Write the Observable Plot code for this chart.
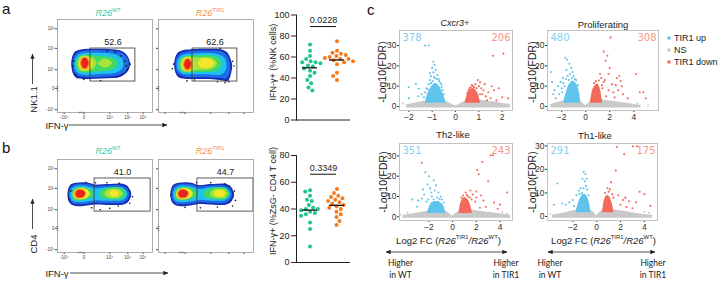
<!DOCTYPE html>
<html>
<head>
<meta charset="utf-8">
<script src="https://cdn.jsdelivr.net/npm/d3@7"></script>
<script src="https://cdn.jsdelivr.net/npm/@observablehq/plot@0.6"></script>
<style>
  html, body { margin: 0; padding: 0; background: #fff; }
  #fig { position: relative; width: 720px; height: 281px; overflow: hidden; background: #fff;
         font-family: "Liberation Sans", Arial, sans-serif; color: #222; }
  #fig .p { position: absolute; }
  #fig svg { display: block; overflow: visible; }
  #ov { position: absolute; left: 0; top: 0; pointer-events: none; }
</style>
</head>
<body>
<div id="fig"></div>
<script>
// ====================== DATA ======================
const groups = ["WT", "TIR1"];
// panel a : IFN-γ+ (%NK cells)
const aWT   = [72, 66, 61, 58, 56, 55, 55, 54, 52, 51, 49, 47, 45, 42, 38, 35, 31, 28];
const aTIR1 = [75, 66, 64, 63, 62, 61, 60, 59, 58, 58, 57, 56, 55, 53, 45, 42, 38];
// panel b : IFN-γ+ (%ZsG- CD4 T cell)
const bWT   = [54, 53, 50, 47, 46, 43, 41, 40, 40, 39, 38, 37, 36, 35, 30, 25, 12];
const bTIR1 = [55, 52, 50, 49, 48, 47, 46, 45, 44, 43, 42, 41, 40, 38, 36, 34, 31, 28];
const pValues = ["0.0228", "0.3349"];
const sigBarAt = [89, 66];
const sigTextAt = [95.5, 70.5];
const dotTicksA = [0, 20, 40, 60, 80, 100];
const dotTicksB = [0, 20, 40, 60, 80];
const dotMax = [100, 80];

// flow plots (display units 0-100 on both axes)
const flowXTicks = [7, 28, 55, 74, 90];
const flowXLabels = ["-10⁴", "0", "10⁴", "10⁵", "10⁶"];
const flowYTicks = [3, 26, 46, 69, 90];
const flowYLabels = ["-10⁴", "0", "10⁴", "10⁵", "10⁶"];
const gateValues = ["52.6", "62.6", "41.0", "44.7"];
const gates = [[34.7, 82, 33.3, 68.8], [35.8, 83, 33.3, 68.8], [39, 98, 44, 79.6], [41, 100, 44, 79.6]];
const densityLevels = [0, 1, 2, 3, 4, 5, 6, 7];

const blobAWT = [
  {p:"0", lvl:0, x:[15,16.5,19,24,32,45,58,67,72,75,77], lo:[50,42,38,36,35.5,36,36.5,38,41,45,50], hi:[54,61,65,67,68,68,67.5,66,63,59,53]},
  {p:"1", lvl:1, x:[16.5,18,21,26,34,46,58,66,71,74,75.5], lo:[50,43,39.5,38,37.5,38,38.5,40,43,46,50], hi:[53,60,63.5,65.5,66.5,66.5,66,64.5,61.5,58,53]},
  {p:"2", lvl:2, x:[18,20,23,28,36,47,57,64,68,70], lo:[50,44,41,40,40,41,41.5,43,46,50], hi:[54,59,62,63.5,64,63.5,63,61,58,54]},
  {p:"3", lvl:3, x:[20,22,25,30,38,48,56,61,64], lo:[50,45,43,42.5,43,44,45,47,51], hi:[54,58,60.5,61.5,61,60,59,57,54]},
  {p:"4", lvl:4, x:[21.5,23.5,27,31,36,39,41.5], lo:[51,45.5,44,44,45,47.5,52], hi:[53,58.5,60.5,60.5,59.5,57.5,54]},
  {p:"4b", lvl:4, x:[43,47,51,55,58], lo:[52,49,48,49.5,52.5], hi:[53,56.5,57.5,56,53]},
  {p:"5", lvl:5, x:[23,25,28,32,35.5,37.5], lo:[51.5,46.5,45,45.5,47.5,52], hi:[53,57.5,59.5,59,57,54]},
  {p:"6", lvl:6, x:[24,26,29,32,34.5], lo:[52,47,45.5,46.5,51], hi:[53,58,59,58,54]},
  {p:"7", lvl:7, x:[25.5,27,29.5,31.5,33], lo:[52,48,47,48.5,52], hi:[53,57.5,58.5,57,54]}
];
const blobATIR1 = [
  {p:"0", lvl:0, x:[17,18.5,21,26,35,48,60,68,73,76,78], lo:[49,42,38,36,35.5,35.5,35,34,33,38,47], hi:[53,60,64,66.5,67.5,68,68,67,64,58,52]},
  {p:"1", lvl:1, x:[18.5,20,23,28,36,48,60,67,71.5,74.5,76], lo:[49,43,40,38,37.5,37.5,37,36.5,36,40,47], hi:[53,59,62.5,64.5,65.5,66,66,65,62,57,52]},
  {p:"2", lvl:2, x:[20,22,25,30,38,49,60,66,70,72], lo:[49,44,41.5,40.5,40.5,40.5,40,40,43,48], hi:[53,58,61,62.5,63,63.5,63,61,58,53]},
  {p:"3", lvl:3, x:[22,24,27,32,40,50,59,64,67], lo:[49,45,43,42.5,43,43,43.5,46,50], hi:[53,57,59.5,60.5,61,61,60.5,58,54]},
  {p:"4", lvl:4, x:[23.5,25.5,29,34,39,45,52,58,62], lo:[50,45,43.5,43.5,45,45.5,45.5,47,51], hi:[52,57.5,59.5,59.5,58.5,59,59,57.5,53]},
  {p:"5", lvl:5, x:[25,27,30,34,37.5], lo:[50,45.5,44.5,45,49.5], hi:[52,57,58.5,58,53]},
  {p:"5b", lvl:5, x:[42,45,50,55,59], lo:[51.5,48,47,48,51.5], hi:[53,57,58,57,53.5]},
  {p:"6", lvl:6, x:[26,28,31,34,36.5], lo:[50,46,44.5,45.5,50], hi:[52,56.5,58,57,53]},
  {p:"7", lvl:7, x:[27.5,29,31.5,33.5,35], lo:[50,47,46,47.5,51], hi:[52,56,57,55.5,52.5]}
];
const blobBWT = [
  {p:"0", lvl:0, x:[11,12.5,15,20,28,35,40,45,52,62,70,75,78], lo:[60,54,51,49.5,49.5,50.5,51,51,50.5,50.5,51,54,60], hi:[64,70,73,74.5,75,74,72.5,72.5,73,73.5,73,70,64]},
  {p:"1", lvl:1, x:[12.5,14,16.5,21,28,35,40,45,52,62,69,73.5,76], lo:[60,55,52.5,51.5,51.5,52.5,53,53,52.5,52.5,53,56,60], hi:[64,69,71.5,73,73.5,72.5,71,71,71.5,72,71,68.5,64]},
  {p:"2", lvl:2, x:[14,16,19,24,30,36,40,45,52,62,68,72,74], lo:[60,55.5,54,53.5,54,55,55.5,55.5,55,55,55.5,58,61], hi:[64,68.5,70.5,71.5,71,69.5,68.5,68.5,69.5,70,69.5,67,63]},
  {p:"3", lvl:3, x:[15.5,18,22,27,32,36,39], lo:[60.5,56.5,55.5,56,57,58.5,61], hi:[64,67.5,69.5,70,69,67,64]},
  {p:"3b", lvl:3, x:[44,48,54,60,66,70,72.5], lo:[61,58,57,56.5,57,58.5,61.5], hi:[64.5,67.5,69,69.5,69,67.5,64]},
  {p:"4", lvl:4, x:[50,53,57,62,66,69], lo:[61.5,59,58,58,59,62], hi:[64,67,68,68,67,64]},
  {p:"5", lvl:5, x:[17,19,23,28,32,34.5], lo:[61,57.5,56.5,57,58.5,61.5], hi:[63.5,67,68.5,68.5,67,64]},
  {p:"5b", lvl:5, x:[55,57.5,60,63,65], lo:[62,60,59.5,60,62.5], hi:[64,66.5,67,66,64.5]},
  {p:"6", lvl:6, x:[18,20,24,28,30.5], lo:[61.5,58,57.5,58.5,62], hi:[63.5,67,68,67,64]},
  {p:"7", lvl:7, x:[19.5,21.5,24.5,27.5,29.5], lo:[61.5,59,58.5,59.5,62], hi:[63.5,66.5,67,66,64]}
];
const blobBTIR1 = [
  {p:"0", lvl:0, x:[13,14.5,17,22,30,37,42,47,54,64,72,77,80], lo:[60,54,51,49.5,49.5,50.5,51.5,51.5,51,50.5,51,54,60], hi:[64,70,73,74.5,75,74,72,72,73,73.5,73,70,64]},
  {p:"1", lvl:1, x:[14.5,16,18.5,23,30,37,42,47,54,64,71,75.5,78], lo:[60,55,52.5,51.5,51.5,52.5,53.5,53.5,53,52.5,53,56,60], hi:[64,69,71.5,73,73.5,72.5,70.5,70.5,71.5,72,71,68.5,64]},
  {p:"2", lvl:2, x:[16,18,21,26,32,38,42,47,54,64,70,74,76], lo:[60,55.5,54,53.5,54,55,56,56,55.5,55,55.5,58,61], hi:[64,68.5,70.5,71.5,71,69.5,68,68,69.5,70,69.5,67,63]},
  {p:"3", lvl:3, x:[17.5,20,24,29,34,38,41], lo:[60.5,56.5,55.5,56,57,58.5,61], hi:[64,67.5,69.5,70,69,67,64]},
  {p:"3b", lvl:3, x:[48,52,58,64,70,73,75], lo:[61,58,57,56.5,57,58.5,61.5], hi:[64.5,67.5,69,69.5,69,67.5,64]},
  {p:"4", lvl:4, x:[55,58,62,67,71,73], lo:[61.5,59,58,58,59,62], hi:[64,67,68,68,67,64]},
  {p:"5", lvl:5, x:[19,21,25,30,34,36.5], lo:[61,57.5,56.5,57,58.5,61.5], hi:[63.5,67,68.5,68.5,67,64]},
  {p:"5b", lvl:5, x:[59,61.5,65,68.5,70.5], lo:[62,60,59.5,60,62.5], hi:[64,66.5,67,66,64.5]},
  {p:"6", lvl:6, x:[20,22,26,30,32.5], lo:[61.5,58,57.5,58.5,62], hi:[63.5,67,68,67,64]},
  {p:"7", lvl:7, x:[21.5,23.5,26.5,29.5,31.5], lo:[61.5,59,58.5,59.5,62], hi:[63.5,66.5,67,66,64]}
];
const eventsAWT = [[17.2,55.2],[16.5,49.9],[19,40.9],[20.7,37.3],[27.7,35.5],[45.3,34.4],[61,64.9],[66.3,60.6],[70.5,55.2],[72.6,49.9],[73.3,45.5],[68,40.9],[62.8,38.4],[52.3,66],[59.3,66.7],[76.5,52],[74.5,47],[0,24],[0,26],[0,28],[23,0],[25,0],[27,0]];
const eventsATIR1 = [[14.5,47],[16,52],[78,55],[79.5,50],[74,33],[70,32],[62,33],[65,69],[38,35],[30,34],[0,24],[0,26],[0,28],[23,0],[25,0],[27,0]];
const eventsBWT = [[12,57],[14,66],[30,75.5],[40,75],[52,75],[65,74.5],[76,66],[79,60],[76,53],[64,50],[55,47.5],[45,46],[36,48],[0,24],[0,26],[0,28],[22,0],[24,0],[26,0]];
const eventsBTIR1 = [[13,62],[40,75],[55,75],[70,74],[80,66],[81,56],[78,50],[62,49],[44,48],[28,48.5],[0,24],[0,26],[0,28],[22,0],[24,0],[26,0]];

// volcano plots: bands [x, lo, hi]; dots [log2FC, -log10 FDR]
const volcCxcr3 = {
  ns: [[-2.1,-0.7,0.8],[-1.6,-0.7,2],[-1.2,-0.7,2.8],[-0.8,-0.7,3.3],[-0.5,-0.7,3],[-0.3,-0.7,2],[-0.15,-0.7,1],[0,-0.7,0.4],[0.15,-0.7,1],[0.3,-0.7,2],[0.5,-0.7,3],[0.8,-0.7,3.3],[1.2,-0.7,3],[1.6,-0.7,2.3],[2.0,-0.7,1.5],[2.35,-0.7,0.8]],
  up: [[-1.28,1.6,2.5],[-1.2,1.6,6],[-1.1,1.6,8.5],[-0.98,1.6,10.5],[-0.88,1.6,11.5],[-0.77,1.6,11],[-0.66,1.6,9.5],[-0.56,1.6,7],[-0.48,1.6,4.5],[-0.42,1.6,2.5]],
  down: [[0.42,1.6,2.5],[0.48,1.6,5],[0.56,1.6,7.5],[0.66,1.6,8.5],[0.76,1.6,9],[0.88,1.6,8],[0.98,1.6,6],[1.06,1.6,2.5]],
  nsDots: [[-2.25,1.5],[-1.9,0.5],[2.2,1.2],[2.3,0.3]],
  upDots: [[-1.3,30],[-1.15,30],[-0.95,22],[-0.9,20.5],[-1.0,19],[-0.85,18],[-0.95,16.8],[-0.78,15.5],[-1.05,15],[-0.88,14],[-0.72,13.5],[-1.1,13],[-0.65,11.5],[-1.15,11],[-1.25,9],[-1.3,7],[-1.45,6],[-1.6,5],[-2.0,9.5],[-1.57,8.7],[-1.7,11],[-2.0,4],[-1.1,16.5],[-0.98,12.5],[-1.35,4.5],[-0.6,9.5],[-0.55,8],[-0.5,6],[-0.7,12.5],[-0.8,13.5],[-1.2,8.5],[-1.05,11.5],[-0.92,14.5],[-0.6,10.8]],
  downDots: [[1.6,25],[2.05,26],[0.95,13],[0.85,11],[1.0,10],[0.8,9.5],[1.1,9],[1.2,8],[1.15,6],[1.3,5],[1.4,7],[1.5,4],[1.85,9],[1.75,3],[2.0,4.5],[2.25,4],[1.65,8],[0.7,10.5],[1.25,11],[1.35,3],[1.05,12],[1.55,10],[0.55,8],[0.65,9.5],[0.75,10],[0.9,9],[1.05,6],[0.5,6.5],[0.6,9]]
};
const volcProlif = {
  ns: [[-2.9,-0.7,1],[-2.3,-0.7,2],[-1.7,-0.7,2.8],[-1.1,-0.7,3.3],[-0.6,-0.7,3.2],[-0.3,-0.7,2],[-0.12,-0.7,1],[0,-0.7,0.4],[0.12,-0.7,1],[0.3,-0.7,2],[0.6,-0.7,3.2],[1.1,-0.7,3.3],[1.7,-0.7,3],[2.3,-0.7,2.5],[3.0,-0.7,2],[3.8,-0.7,1.2],[4.6,-0.7,0.6]],
  up: [[-1.8,1.6,3],[-1.65,1.6,6],[-1.5,1.6,9],[-1.35,1.6,11],[-1.2,1.6,12],[-1.05,1.6,12.5],[-0.9,1.6,12],[-0.75,1.6,11],[-0.6,1.6,9],[-0.5,1.6,6],[-0.42,1.6,2.5]],
  down: [[0.4,1.6,2.5],[0.5,1.6,6],[0.6,1.6,8.5],[0.75,1.6,10],[0.9,1.6,11],[1.05,1.6,11],[1.2,1.6,9],[1.3,1.6,6],[1.4,1.6,2.5]],
  nsDots: [[4.3,1.5],[-2.6,1],[3.6,0.6],[5.2,0.5]],
  upDots: [[-1.7,24],[-1.55,23],[-1.35,21],[-1.2,19],[-1.1,17],[-1.3,16],[-1.5,15],[-1.9,14],[-2.1,12],[-2.3,10],[-2.6,8],[-2.9,17],[-2.8,12],[-2.0,9],[-1.0,15],[-0.9,13.5],[-1.4,13],[-2.2,6],[-2.5,4],[-1.75,10],[-1.6,18],[-1.15,14],[-2.7,6],[-1.85,11.5],[-1.65,13.5],[-1.95,7],[-0.8,13],[-0.65,10.5]],
  downDots: [[2.07,34],[1.5,27],[1.8,25],[1.65,22.5],[2.0,19],[1.9,16],[1.2,16],[2.8,15],[2.6,14],[1.5,12],[2.2,11],[3.0,10],[2.7,8],[3.1,6],[2.3,7],[1.7,5],[3.5,4],[4.2,16],[4.5,7],[4.8,7],[5.0,4],[1.4,9],[1.6,13],[2.4,4.5],[2.9,12.5],[1.3,14],[1.9,8],[2.5,10.5],[0.85,12.5],[1.1,12.8],[0.7,11.5],[1.35,10.5]]
};
const volcTh2 = {
  ns: [[-4.2,-0.7,0.6],[-3.4,-0.7,1.4],[-2.6,-0.7,2.2],[-1.9,-0.7,3],[-1.2,-0.7,3.2],[-0.7,-0.7,3],[-0.35,-0.7,2],[-0.15,-0.7,1],[0,-0.7,0.4],[0.15,-0.7,1],[0.35,-0.7,2],[0.7,-0.7,3],[1.3,-0.7,3.2],[2.0,-0.7,3],[2.8,-0.7,2.4],[3.6,-0.7,1.8],[4.4,-0.7,1.2],[4.9,-0.7,0.6]],
  up: [[-2.1,1.6,2.5],[-1.95,1.6,5],[-1.75,1.6,7],[-1.45,1.6,7.5],[-1.15,1.6,7.5],[-0.9,1.6,6.5],[-0.72,1.6,5],[-0.6,1.6,2.5]],
  down: [[0.55,1.6,2.5],[0.65,1.6,6],[0.8,1.6,8.5],[1.0,1.6,9.5],[1.2,1.6,9],[1.4,1.6,7.5],[1.55,1.6,5],[1.65,1.6,2.5]],
  nsDots: [[-4.4,1.2],[-3.8,2],[4.2,2.2],[4.6,1.5],[-3.2,0.5]],
  upDots: [[-2.3,22],[-2.0,20],[-1.6,18],[-2.1,16],[-1.9,14],[-1.5,13],[-1.2,12],[-2.4,11],[-1.0,10],[-2.6,9],[-1.3,9.5],[-0.9,8.5],[-2.9,8],[-3.0,5],[-2.2,7.5],[-1.75,10],[-3.4,8.5],[-1.8,12],[-2.5,13.5],[-1.4,15.5],[-1.6,8.5],[-1.1,8.8],[-2.05,8.5],[-0.75,7]],
  downDots: [[-2.6,26.6],[3.2,30.3],[3.4,30.3],[2.5,27],[2.08,23],[2.2,21],[3.0,17.5],[4.6,12],[1.5,13],[2.0,12.5],[1.1,12],[1.7,11],[2.4,10.5],[1.3,10],[2.6,8],[3.5,7],[1.9,7.5],[2.8,5],[3.8,4],[2.3,4.5],[4.0,6],[2.0,9.5],[0.9,10.5],[1.6,8.5],[0.75,9.5],[1.2,10.8],[1.45,9.5]]
};
const volcTh1 = {
  ns: [[-3.7,-0.7,0.6],[-3.0,-0.7,1.2],[-2.3,-0.7,2],[-1.6,-0.7,2.8],[-1.0,-0.7,3],[-0.6,-0.7,2.8],[-0.3,-0.7,2],[-0.12,-0.7,1],[0,-0.7,0.4],[0.12,-0.7,1],[0.3,-0.7,2],[0.6,-0.7,2.8],[1.0,-0.7,3],[1.6,-0.7,2.8],[2.3,-0.7,2.2],[3.0,-0.7,1.6],[3.8,-0.7,1],[4.7,-0.7,0.5]],
  up: [[-1.7,1.6,2.5],[-1.55,1.6,5.5],[-1.35,1.6,8],[-1.15,1.6,9.5],[-0.95,1.6,9.5],[-0.75,1.6,8],[-0.6,1.6,5.5],[-0.5,1.6,2.5]],
  down: [[0.5,1.6,2.5],[0.6,1.6,6],[0.75,1.6,8.5],[0.95,1.6,9],[1.15,1.6,8],[1.3,1.6,5.5],[1.42,1.6,2.5]],
  nsDots: [[-3.9,1],[4.4,1.5],[-2.8,0.5],[4.0,2]],
  upDots: [[-1.1,19],[-0.95,18],[-1.2,16],[-1.0,15],[-0.9,13],[-1.35,12],[-1.5,11],[-0.8,11.5],[-1.7,9],[-2.0,7],[-2.3,6],[-2.6,5],[-2.9,5.5],[-3.3,14],[-3.6,5],[-1.9,4.5],[-1.1,12],[-1.25,10],[-0.85,16],[-0.7,9],[-1.45,9.5]],
  downDots: [[1.7,29.5],[3.04,29.8],[3.37,29.8],[2.3,26.5],[1.6,19.5],[1.2,14.5],[0.9,12],[1.1,11.5],[1.4,8],[2.2,7],[2.7,6.5],[3.3,6],[3.6,10.5],[4.0,9.5],[4.5,4.5],[2.0,5],[2.5,4],[3.0,3.5],[1.8,9],[2.4,8],[1.0,10.5],[0.7,10],[1.3,9.5]]
};
const volcTitles = ["Cxcr3+", "Proliferating", "Th2-like", "Th1-like"];
const volcCounts = [["378", "206"], ["480", "308"], ["351", "243"], ["291", "175"]];
const volcXDomains = [[-2.40, 2.44], [-3.18, 6.06], [-4.48, 5.05], [-4.13, 5.1]];
const volcYDomains = [[-1.97, 37.4], [-1.97, 37.4], [-1.8, 36.1], [-1.7, 31.0]];
const volcXTicks = [[-2, -1, 0, 1, 2], [-2, 0, 2, 4], [-2, 0, 2, 4], [-2, 0, 2, 4]];
const volcYTicks = [0, 10, 20, 30];
const legendLabels = ["TIR1 up", "NS", "TIR1 down"];

// ====================== STYLE ======================
const C = {
  green: "#1ec48c", orange: "#f47b20", wtTitle: "#35c6a1", tirTitle: "#f39237",
  up: "#5fc3eb", ns: "#c9c9c9", down: "#f36a5c", upText: "#86cdee", downText: "#f7968b"
};
const levelColors = ["#1830b8", "#1e6ce6", "#1fc2ee", "#40d965", "#a8e43a", "#f2e62c", "#f59a22", "#e6261c"];
const FONT = '"Liberation Sans", Arial, Helvetica, sans-serif';
const fig = document.getElementById("fig");
const numFmt = d => String(d).replace("-", "\u2212");

function place(node, left, top) {
  const d = document.createElement("div");
  d.className = "p";
  d.style.left = left + "px";
  d.style.top = top + "px";
  d.appendChild(node);
  fig.appendChild(d);
}

// ====================== FLOW PLOTS ======================
const flowPanels = [
  {frame: [57, 19, 95, 93], blob: blobAWT, events: eventsAWT, gate: 0, labels: true},
  {frame: [158, 19, 95, 93], blob: blobATIR1, events: eventsATIR1, gate: 1, labels: false},
  {frame: [57, 159, 95, 93], blob: blobBWT, events: eventsBWT, gate: 2, labels: true},
  {frame: [158, 159, 95, 93], blob: blobBTIR1, events: eventsBTIR1, gate: 3, labels: false}
];
const xLab = new Map(flowXTicks.map((t, i) => [t, flowXLabels[i]]));
const yLab = new Map(flowYTicks.map((t, i) => [t, flowYLabels[i]]));
for (const fp of flowPanels) {
  const [fx, fy, fw, fh] = fp.frame;
  const mL = 18, mR = 2, mT = 2, mB = 10;
  const rows = fp.blob.flatMap(s => s.x.map((x, i) => ({p: s.p, lvl: s.lvl, x, lo: s.lo[i], hi: s.hi[i]})));
  const ev = fp.events.map(([x, y]) => ({x, y}));
  const g = gates[fp.gate];
  const gate = {x1: g[0], x2: g[1], y1: g[2], y2: g[3], t: gateValues[fp.gate]};
  const p = Plot.plot({
    width: fw + mL + mR, height: fh + mT + mB,
    marginLeft: mL, marginRight: mR, marginTop: mT, marginBottom: mB,
    style: {fontFamily: FONT, fontSize: "4.5px", background: "transparent", overflow: "visible", color: "#444"},
    x: {domain: [0, 100], ticks: flowXTicks, tickFormat: d => fp.labels ? xLab.get(d) : "", tickSize: 2, tickPadding: 1, label: null},
    y: {domain: [0, 100], ticks: flowYTicks, tickFormat: d => fp.labels ? yLab.get(d) : "", tickSize: 2, tickPadding: 1, label: null},
    color: {type: "ordinal", domain: densityLevels, range: levelColors},
    marks: [
      Plot.areaY(rows, {x: "x", y1: "lo", y2: "hi", z: "p", fill: "lvl", curve: "catmull-rom"}),
      Plot.dot(ev, {x: "x", y: "y", r: 0.8, fill: "#111"}),
      Plot.rect([gate], {x1: "x1", x2: "x2", y1: "y1", y2: "y2", fill: "none", stroke: "#333", strokeWidth: 0.8}),
      Plot.text([gate], {x: d => (d.x1 + d.x2) / 2, y: d => d.y2 + 7, text: "t", fontSize: 9, fill: "#222"}),
      Plot.frame({stroke: "#999", strokeWidth: 0.8})
    ]
  });
  place(p, fx - mL, fy - mT);
}

// ====================== DOT PLOTS ======================
const dotPanels = [
  {vals: [aWT, aTIR1], ticks: dotTicksA, max: dotMax[0], top: 0, yTopPx: 14.5, y0Px: 119.5, k: 0},
  {vals: [bWT, bTIR1], ticks: dotTicksB, max: dotMax[1], top: 140, yTopPx: 155, y0Px: 262, k: 1}
];
for (const dp of dotPanels) {
  const rows = [...dp.vals[0].map(v => ({g: groups[0], v})), ...dp.vals[1].map(v => ({g: groups[1], v}))];
  const mL = 30, mR = 4, mB = 6;
  const mT = dp.yTopPx - dp.top;
  const p = Plot.plot({
    width: mL + 54 + mR, height: dp.y0Px - dp.top + mB,
    marginLeft: mL, marginRight: mR, marginTop: mT, marginBottom: mB,
    style: {fontFamily: FONT, fontSize: "9px", background: "transparent", overflow: "visible", color: "#222"},
    fx: {domain: groups, padding: 0, axis: null},
    y: {domain: [0, dp.max], ticks: dp.ticks, tickSize: 5, tickPadding: 2, line: true, label: null},
    color: {domain: groups, range: [C.green, C.orange]},
    marks: [
      Plot.ruleY([0], {stroke: "#222", strokeWidth: 1}),
      Plot.dot(rows, Plot.dodgeX("middle", {y: "v", fx: "g", r: 2, fill: "g", padding: 0.8})),
      Plot.tickY(rows, Plot.groupZ({y: "mean"}, {y: "v", fx: "g", stroke: "#111", strokeWidth: 1.3, insetLeft: 6, insetRight: 6})),
      Plot.ruleY([sigBarAt[dp.k]], {y: d => d, fx: () => groups[0], insetLeft: 14, stroke: "#111", strokeWidth: 1}),
      Plot.ruleY([sigBarAt[dp.k]], {y: d => d, fx: () => groups[1], insetRight: 14, stroke: "#111", strokeWidth: 1}),
      Plot.text([pValues[dp.k]], {text: d => d, y: () => sigTextAt[dp.k], fx: () => groups[0], frameAnchor: "right", textAnchor: "middle", fontSize: 9, fill: "#222"})
    ]
  });
  place(p, 296 - mL, dp.top);
}

// ====================== VOLCANO PLOTS ======================
const volcPanels = [
  {frame: [399, 30, 113, 80], d: volcCxcr3},
  {frame: [547, 30, 111, 80], d: volcProlif},
  {frame: [399, 143, 113, 77], d: volcTh2},
  {frame: [547, 143, 110, 77], d: volcTh1}
];
volcPanels.forEach((vp, k) => {
  const [fx, fy, fw, fh] = vp.frame;
  const mL = 14, mR = 3, mT = 3, mB = 12;
  const band = arr => arr.map(([x, lo, hi]) => ({x, lo, hi}));
  const pts = arr => arr.map(([x, y]) => ({x, y}));
  const d = vp.d;
  const p = Plot.plot({
    width: fw + mL + mR, height: fh + mT + mB,
    marginLeft: mL, marginRight: mR, marginTop: mT, marginBottom: mB,
    style: {fontFamily: FONT, fontSize: "8.5px", background: "transparent", overflow: "visible", color: "#333"},
    x: {domain: volcXDomains[k], ticks: volcXTicks[k], tickFormat: numFmt, tickSize: 2, tickPadding: 1, label: null},
    y: {domain: volcYDomains[k], ticks: volcYTicks, tickFormat: numFmt, tickSize: 2, tickPadding: 1, label: null},
    marks: [
      Plot.areaY(band(d.ns), {x: "x", y1: "lo", y2: "hi", fill: C.ns, curve: "monotone-x"}),
      Plot.dot(pts(d.nsDots), {x: "x", y: "y", r: 1, fill: C.ns}),
      Plot.areaY(band(d.up), {x: "x", y1: "lo", y2: "hi", fill: C.up, curve: "linear"}),
      Plot.dot(pts(d.upDots), {x: "x", y: "y", r: 1.05, fill: C.up}),
      Plot.areaY(band(d.down), {x: "x", y1: "lo", y2: "hi", fill: C.down, curve: "linear"}),
      Plot.dot(pts(d.downDots), {x: "x", y: "y", r: 1.05, fill: C.down}),
      Plot.text([volcCounts[k][0]], {text: t => t, frameAnchor: "top-left", textAnchor: "start", lineAnchor: "middle", dx: 3, dy: 7, fill: C.upText, fontSize: 10, fontFamily: "DejaVu Sans"}),
      Plot.text([volcCounts[k][1]], {text: t => t, frameAnchor: "top-right", textAnchor: "end", lineAnchor: "middle", dx: -2, dy: 7, fill: C.downText, fontSize: 10, fontFamily: "DejaVu Sans"}),
      Plot.frame({stroke: "#c2c2c2", strokeWidth: 1})
    ]
  });
  place(p, fx - mL, fy - mT);
});

// ====================== ANNOTATIONS ======================
const ov = d3.select(fig).append("svg").attr("id", "ov").attr("width", 720).attr("height", 281)
  .style("font-family", FONT);
ov.append("defs").append("marker").attr("id", "ah")
  .attr("viewBox", "0 0 8 8").attr("refX", 7.5).attr("refY", 4)
  .attr("markerWidth", 5).attr("markerHeight", 5).attr("markerUnits", "userSpaceOnUse")
  .attr("orient", "auto-start-reverse")
  .append("path").attr("d", "M0,0.6 L8,4 L0,7.4 Z").attr("fill", "#222");

function arrow(x1, y1, x2, y2, both) {
  const l = ov.append("line").attr("x1", x1).attr("y1", y1).attr("x2", x2).attr("y2", y2)
    .attr("stroke", "#222").attr("stroke-width", 0.8).attr("marker-end", "url(#ah)");
  if (both) l.attr("marker-start", "url(#ah)");
}
function txt(x, y, parts, o = {}) {
  const t = ov.append("text").attr("x", x).attr("y", y)
    .attr("text-anchor", o.anchor || "middle")
    .attr("dominant-baseline", o.baseline || "central")
    .attr("fill", o.fill || "#222")
    .style("font-size", (o.size || 9) + "px");
  if (o.family) t.style("font-family", o.family);
  if (o.rotate) t.attr("transform", `rotate(${o.rotate},${x},${y})`);
  for (const part of parts) {
    if (typeof part === "string") { t.append("tspan").text(part); continue; }
    const s = t.append("tspan").text(part.t);
    if (part.i) s.style("font-style", "italic");
    if (part.sup) s.attr("baseline-shift", "super").style("font-size", "0.62em");
  }
  return t;
}

// panel letters
txt(2, 14, ["a"], {size: 15, anchor: "start", baseline: "alphabetic", fill: "#111"});
txt(2, 153, ["b"], {size: 15, anchor: "start", baseline: "alphabetic", fill: "#111"});
txt(367, 15, ["c"], {size: 15, anchor: "start", baseline: "alphabetic", fill: "#111"});

// flow titles
for (const y of [12.5, 150.5]) {
  txt(108, y, [{t: "R26", i: 1}, {t: "WT", sup: 1}], {size: 9, fill: C.wtTitle});
  txt(210, y, [{t: "R26", i: 1}, {t: "TIR1", sup: 1}], {size: 9, fill: C.tirTitle});
}
// flow axis labels + arrows
txt(32.5, 99.5, ["NK1.1"], {size: 9.5, rotate: -90});
arrow(32.5, 84, 32.5, 54);
txt(57, 125, ["IFN-γ"], {size: 9.5});
arrow(69, 125, 167, 125);
txt(32.5, 244, ["CD4"], {size: 9.5, rotate: -90});
arrow(32.5, 229, 32.5, 199);
txt(57, 273, ["IFN-γ"], {size: 9.5});
arrow(70, 273, 168, 273);

// dot plot y labels
txt(273, 62, ["IFN-γ+ (%NK cells)"], {size: 9, rotate: -90});
txt(273, 201, ["IFN-γ+ (%ZsG- CD4 T cell)"], {size: 9, rotate: -90});

// volcano titles
txt(455, 22.5, [{t: volcTitles[0], i: 1}], {size: 9});
txt(603, 24, [volcTitles[1]], {size: 9.5});
txt(453, 134, [volcTitles[2]], {size: 9.5});
txt(595, 135, [volcTitles[3]], {size: 9.5});
// volcano y labels
for (const [x, y] of [[382, 72], [532, 72], [383, 182], [532, 182]]) {
  txt(x, y, ["-Log10(FDR)"], {size: 10.5, rotate: -90});
}
// volcano x labels
for (const x of [448.5, 603.5]) {
  txt(x, 240, ["Log2 FC (", {t: "R26", i: 1}, {t: "TIR1", sup: 1}, {t: "/R26", i: 1}, {t: "WT", sup: 1}, ")"], {size: 9.5});
}
// legend
const legColors = [C.up, C.ns, C.down];
legendLabels.forEach((lab, i) => {
  const y = 38 + i * 12;
  ov.append("circle").attr("cx", 669).attr("cy", y).attr("r", 1.8).attr("fill", legColors[i]);
  txt(674, y, [lab], {size: 9, anchor: "start"});
});
// direction arrows
arrow(386, 252, 507, 252, true);
arrow(548, 252, 655, 252, true);
const LATO = "Lato, 'Open Sans', sans-serif";
for (const [x, lab] of [[400.5, "in WT"], [506, "in TIR1"], [550, "in WT"], [653, "in TIR1"]]) {
  txt(x, 263, ["Higher"], {size: 8.5, family: LATO});
  txt(x, 275, [lab], {size: 8.5, family: LATO});
}
</script>
</body>
</html>
